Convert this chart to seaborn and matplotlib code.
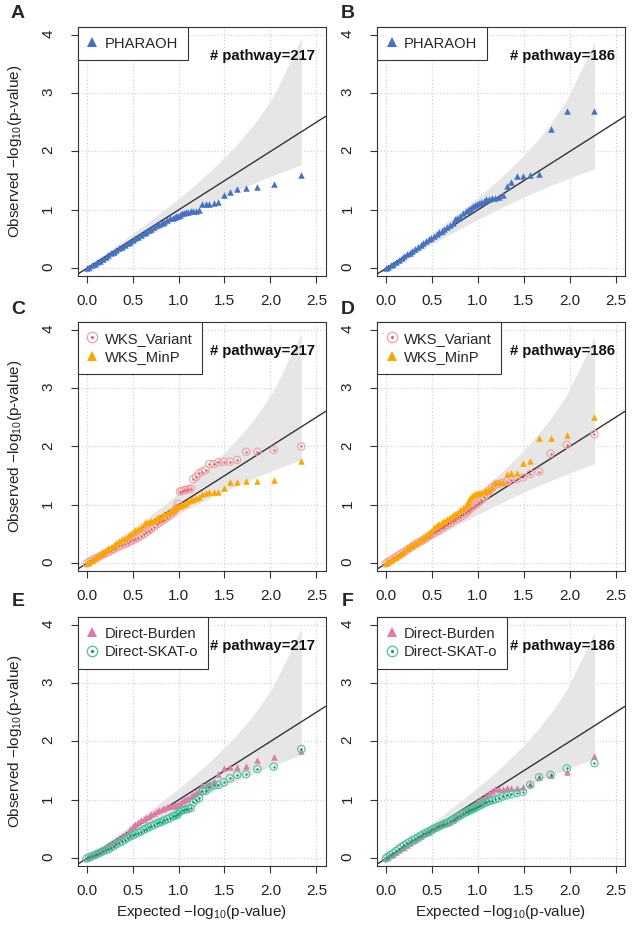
import numpy as np
import pandas as pd
import matplotlib
matplotlib.use("Agg")
import matplotlib.pyplot as plt
import seaborn as sns
from matplotlib.lines import Line2D

# ranks of the plotted points (1 = smallest p-value)
TAIL_RANKS = list(range(1, 26))
BULK_RANKS_217 = [27, 29, 31, 33, 35, 37, 40, 43, 46, 49, 52, 56, 60, 64, 68, 73, 78, 84, 90,
                  96, 103, 110, 118, 126, 135, 145, 155, 166, 178, 190, 203, 217]
BULK_RANKS_186 = [27, 29, 31, 33, 35, 37, 40, 43, 46, 49, 52, 56, 60, 64, 68, 73, 78, 84, 90,
                  96, 103, 110, 118, 126, 135, 145, 155, 166, 178, 186]

# observed -log10(p): ranks 1-25 first, then the bulk ranks
pharaoh_217 = [1.60, 1.45, 1.40, 1.38, 1.36, 1.31, 1.25, 1.13, 1.12, 1.11, 1.11, 1.10, 1.00,
               0.99, 0.98, 0.98, 0.97, 0.965, 0.955, 0.94, 0.92, 0.905, 0.89, 0.88, 0.87,
               0.855, 0.83, 0.80, 0.78, 0.76, 0.735, 0.70, 0.675, 0.65, 0.625, 0.605, 0.575,
               0.545, 0.52, 0.49, 0.46, 0.435, 0.40, 0.37, 0.345, 0.315, 0.285, 0.255, 0.225,
               0.195, 0.165, 0.135, 0.105, 0.075, 0.05, 0.025, 0.0]
pharaoh_186 = [2.69, 2.69, 2.39, 1.61, 1.60, 1.58, 1.58, 1.48, 1.41, 1.26, 1.22, 1.21, 1.20,
               1.19, 1.18, 1.16, 1.14, 1.12, 1.10, 1.08, 1.06, 1.04, 1.02, 1.00, 0.98,
               0.94, 0.90, 0.87, 0.84, 0.77, 0.74, 0.70, 0.67, 0.645, 0.615, 0.59, 0.555,
               0.525, 0.495, 0.465, 0.43, 0.40, 0.365, 0.33, 0.30, 0.27, 0.24, 0.205, 0.175,
               0.145, 0.11, 0.08, 0.05, 0.02, 0.0]
wks_variant_217 = [2.00, 1.94, 1.91, 1.91, 1.77, 1.74, 1.74, 1.73, 1.70, 1.70, 1.60, 1.57, 1.54,
                   1.48, 1.44, 1.28, 1.27, 1.26, 1.25, 1.24, 1.23, 1.02, 0.95, 0.90, 0.86,
                   0.82, 0.785, 0.75, 0.725, 0.70, 0.67, 0.63, 0.59, 0.56, 0.53, 0.50, 0.47,
                   0.44, 0.42, 0.40, 0.375, 0.35, 0.33, 0.31, 0.29, 0.27, 0.245, 0.22, 0.195,
                   0.175, 0.15, 0.125, 0.10, 0.075, 0.05, 0.025, 0.0]
wks_minp_217 = [1.76, 1.43, 1.41, 1.41, 1.39, 1.39, 1.29, 1.22, 1.22, 1.22, 1.21, 1.19, 1.14,
                1.12, 1.10, 1.08, 1.06, 1.04, 1.02, 1.00, 0.99, 0.98, 0.96, 0.94, 0.92,
                0.89, 0.87, 0.84, 0.815, 0.79, 0.77, 0.74, 0.725, 0.715, 0.705, 0.67, 0.63,
                0.59, 0.565, 0.54, 0.505, 0.47, 0.44, 0.41, 0.38, 0.345, 0.315, 0.285, 0.255,
                0.225, 0.19, 0.16, 0.125, 0.09, 0.06, 0.03, 0.0]
wks_variant_186 = [2.21, 2.03, 1.88, 1.57, 1.53, 1.47, 1.44, 1.42, 1.40, 1.38, 1.36, 1.34, 1.30,
                   1.24, 1.18, 1.13, 1.09, 1.05, 1.02, 1.00, 0.97, 0.95, 0.92, 0.89, 0.86,
                   0.82, 0.79, 0.77, 0.745, 0.72, 0.69, 0.66, 0.63, 0.60, 0.57, 0.55, 0.52,
                   0.49, 0.46, 0.435, 0.40, 0.38, 0.35, 0.32, 0.29, 0.26, 0.23, 0.20, 0.17,
                   0.14, 0.11, 0.08, 0.05, 0.02, 0.0]
wks_minp_186 = [2.50, 2.20, 2.14, 2.14, 1.75, 1.72, 1.55, 1.55, 1.53, 1.39, 1.39, 1.39, 1.30,
                1.26, 1.25, 1.24, 1.23, 1.21, 1.20, 1.19, 1.17, 1.14, 1.10, 1.04, 1.00,
                0.95, 0.91, 0.87, 0.845, 0.82, 0.79, 0.76, 0.73, 0.705, 0.68, 0.66, 0.62,
                0.56, 0.52, 0.49, 0.455, 0.42, 0.38, 0.35, 0.32, 0.29, 0.255, 0.22, 0.185,
                0.15, 0.115, 0.085, 0.055, 0.02, 0.0]
burden_217 = [1.84, 1.73, 1.68, 1.58, 1.57, 1.56, 1.54, 1.44, 1.33, 1.27, 1.26, 1.25, 1.16,
              1.13, 1.10, 1.07, 1.04, 1.02, 1.00, 0.98, 0.95, 0.93, 0.92, 0.91, 0.90,
              0.89, 0.875, 0.86, 0.845, 0.83, 0.81, 0.78, 0.755, 0.73, 0.705, 0.68, 0.65,
              0.62, 0.58, 0.55, 0.50, 0.46, 0.42, 0.38, 0.35, 0.32, 0.28, 0.25, 0.22,
              0.19, 0.16, 0.13, 0.10, 0.075, 0.05, 0.025, 0.0]
skato_217 = [1.87, 1.57, 1.53, 1.44, 1.43, 1.37, 1.30, 1.26, 1.25, 1.22, 1.16, 1.15, 1.03,
             1.00, 0.96, 0.86, 0.85, 0.84, 0.83, 0.82, 0.80, 0.76, 0.74, 0.73, 0.72,
             0.69, 0.67, 0.65, 0.63, 0.615, 0.60, 0.575, 0.555, 0.535, 0.51, 0.49, 0.46,
             0.44, 0.42, 0.40, 0.375, 0.35, 0.32, 0.29, 0.27, 0.245, 0.215, 0.185, 0.16,
             0.14, 0.12, 0.10, 0.08, 0.055, 0.04, 0.02, 0.0]
burden_186 = [1.75, 1.47, 1.43, 1.39, 1.28, 1.22, 1.21, 1.20, 1.20, 1.19, 1.19, 1.18, 1.16,
              1.12, 1.07, 1.04, 1.01, 0.98, 0.96, 0.93, 0.91, 0.88, 0.86, 0.84, 0.82,
              0.80, 0.76, 0.72, 0.69, 0.66, 0.63, 0.61, 0.595, 0.58, 0.565, 0.55, 0.52,
              0.49, 0.46, 0.44, 0.41, 0.38, 0.35, 0.32, 0.295, 0.265, 0.235, 0.20, 0.17,
              0.14, 0.11, 0.08, 0.05, 0.02, 0.0]
skato_186 = [1.63, 1.54, 1.43, 1.39, 1.26, 1.14, 1.12, 1.10, 1.08, 1.06, 1.03, 1.01, 0.99,
             0.98, 0.96, 0.94, 0.92, 0.90, 0.88, 0.86, 0.85, 0.83, 0.82, 0.80, 0.79,
             0.76, 0.73, 0.71, 0.68, 0.66, 0.64, 0.61, 0.59, 0.57, 0.55, 0.53, 0.51,
             0.48, 0.46, 0.44, 0.415, 0.39, 0.36, 0.33, 0.31, 0.28, 0.255, 0.225, 0.195,
             0.16, 0.125, 0.09, 0.06, 0.025, 0.0]

BLUE = "#4472C4"
ORANGE = "#FFA500"
PINK = "#E07AA8"
RED_RING, RED_DOT = "#F2A0A4", "#E5636C"
TEAL_RING, TEAL_DOT = "#4FC29E", "#17936E"

sns.set_theme(style="white")
plt.rcParams["font.family"] = ["Liberation Sans", "DejaVu Sans"]
plt.rcParams["mathtext.fontset"] = "custom"
plt.rcParams["mathtext.rm"] = "Liberation Sans"
plt.rcParams["mathtext.it"] = "Liberation Sans:italic"


def qq_band(n):
    # 95% interval of the uniform order statistics, Beta(i, n - i + 1)
    ranks = np.arange(1, n + 1)
    logf = np.concatenate([[0.0], np.cumsum(np.log(np.arange(1, n + 1)))])
    k = np.arange(n + 1)
    logc = logf[n] - logf[k] - logf[n - k]

    def cdf(p, i):
        return np.exp(logc[i:] + k[i:] * np.log(p) + (n - k[i:]) * np.log1p(-p)).sum()

    def quant(q, i):
        lo, hi = 0.0, 1.0
        for _ in range(60):
            mid = 0.5 * (lo + hi)
            if cdf(mid, i) < q:
                lo = mid
            else:
                hi = mid
        return 0.5 * (lo + hi)

    upper = np.array([-np.log10(quant(0.025, i)) for i in ranks])
    lower = np.array([-np.log10(quant(0.975, i)) for i in ranks])
    return -np.log10(ranks / n), lower, upper


def series_frame(n, values):
    bulk = BULK_RANKS_217 if n == 217 else BULK_RANKS_186
    ranks = np.array(TAIL_RANKS + bulk)
    return pd.DataFrame({"expected": -np.log10(ranks / n), "observed": values})


panels = [
    ("A", 217, [("PHARAOH", pharaoh_217, "tri", BLUE)]),
    ("B", 186, [("PHARAOH", pharaoh_186, "tri", BLUE)]),
    ("C", 217, [("WKS_Variant", wks_variant_217, "ring", (RED_RING, RED_DOT)),
                ("WKS_MinP", wks_minp_217, "tri", ORANGE)]),
    ("D", 186, [("WKS_Variant", wks_variant_186, "ring", (RED_RING, RED_DOT)),
                ("WKS_MinP", wks_minp_186, "tri", ORANGE)]),
    ("E", 217, [("Direct-Burden", burden_217, "tri", PINK),
                ("Direct-SKAT-o", skato_217, "ring", (TEAL_RING, TEAL_DOT))]),
    ("F", 186, [("Direct-Burden", burden_186, "tri", PINK),
                ("Direct-SKAT-o", skato_186, "ring", (TEAL_RING, TEAL_DOT))]),
]

W, H = 633, 930
fig = plt.figure(figsize=(W / 100, H / 100), dpi=100)
lefts = [77.5, 376.8]
tops = [27, 322, 617]
letter_y = [13, 310, 601]
letter_x = [18, 348]
bands = {n: qq_band(n) for n in (217, 186)}
ink = "#333333"

for idx, (letter, n, series) in enumerate(panels):
    row, col = divmod(idx, 2)
    ax = fig.add_axes([lefts[col] / W, 1 - (tops[row] + 249) / H, 248 / W, 249 / H])
    ax.set_xlim(-0.1, 2.6)
    ax.set_ylim(-0.13, 4.13)
    ax.set_axisbelow(True)
    ax.grid(True, color="#D3D3D3", linestyle=":", linewidth=0.9)

    bx, blo, bhi = bands[n]
    ax.fill_between(bx, blo, bhi, color="#E6E6E6", linewidth=0, zorder=1)
    ax.axline((0, 0), slope=1, color=ink, linewidth=1.0, zorder=2)

    handles, labels = [], []
    for name, vals, kind, color in series:
        df = series_frame(n, vals)
        if kind == "tri":
            sns.scatterplot(data=df, x="expected", y="observed", marker="^", s=22,
                            color=color, linewidth=0, ax=ax, zorder=3, legend=False)
            handles.append(Line2D([], [], marker="^", linestyle="none", color=color,
                                  markersize=6.5, markeredgewidth=0))
        else:
            ring, dot = color
            sns.scatterplot(data=df, x="expected", y="observed", marker="o", s=28,
                            facecolors="none", edgecolor=ring, linewidth=0.8,
                            ax=ax, zorder=3, legend=False)
            sns.scatterplot(data=df, x="expected", y="observed", marker="o", s=3,
                            color=dot, linewidth=0, ax=ax, zorder=3, legend=False)
            handles.append((Line2D([], [], marker="o", linestyle="none", markersize=7.5,
                                   markerfacecolor="none", markeredgecolor=ring,
                                   markeredgewidth=0.9),
                            Line2D([], [], marker="o", linestyle="none", markersize=2.2,
                                   color=dot, markeredgewidth=0)))
        labels.append(name)

    leg = ax.legend(handles, labels, loc="upper left", bbox_to_anchor=(0, 1),
                    borderaxespad=0, frameon=True, fancybox=False, framealpha=1,
                    edgecolor=ink, facecolor="white", fontsize=10.6,
                    handlelength=0.7, handletextpad=0.5, borderpad=0.65,
                    labelspacing=0.3)
    leg.get_frame().set_linewidth(0.8)
    leg.set_zorder(5)

    ax.text(2.49, 3.63, f"# pathway={n}", ha="right", va="center",
            fontsize=10.7, fontweight="bold", color="#111111", zorder=6)

    ax.set_xticks([0, 0.5, 1.0, 1.5, 2.0, 2.5])
    ax.set_xticklabels(["0.0", "0.5", "1.0", "1.5", "2.0", "2.5"])
    ax.set_yticks([0, 1, 2, 3, 4])
    ax.tick_params(axis="both", direction="out", length=5, width=0.8, color=ink,
                   labelsize=11, labelcolor="#222222", bottom=True, left=True)
    ax.tick_params(axis="x", pad=8)
    ax.tick_params(axis="y", labelrotation=90, pad=11)
    for sp in ax.spines.values():
        sp.set_color(ink)
        sp.set_linewidth(0.8)

    if col == 0:
        ax.set_ylabel("Observed \u2212log$_{10}$(p-value)", fontsize=11, color="#222222")
        ax.yaxis.set_label_coords(-0.215, 0.5)
    else:
        ax.set_ylabel("")
    if row == 2:
        ax.set_xlabel("Expected \u2212log$_{10}$(p-value)", fontsize=11, color="#222222")
        ax.xaxis.set_label_coords(0.5, -0.147)
    else:
        ax.set_xlabel("")

    fig.text(letter_x[col] / W, 1 - letter_y[row] / H, letter, fontsize=14,
             fontweight="bold", ha="center", va="center")

fig.savefig("out.png", dpi=100, facecolor="white")
